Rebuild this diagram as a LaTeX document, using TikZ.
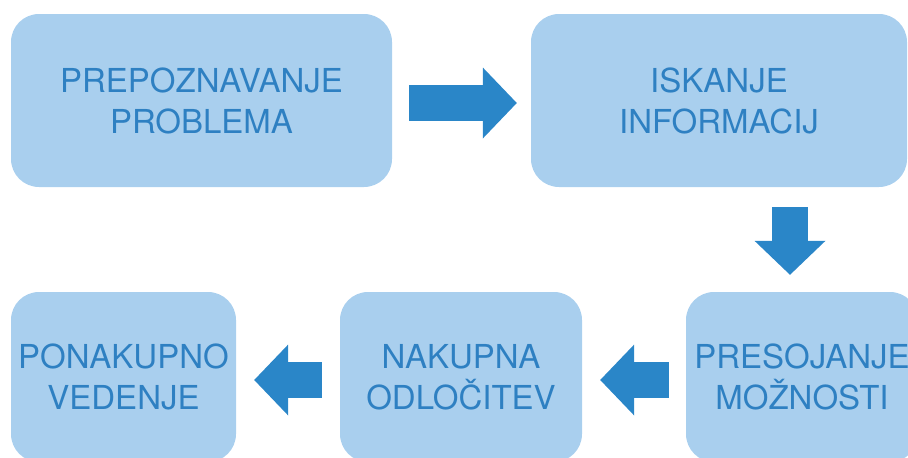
\documentclass[tikz,border=0pt]{standalone}
\usepackage{fontspec}
\setmainfont{TeX Gyre Heros}
\usetikzlibrary{arrows.meta}
\definecolor{boxblue}{HTML}{A9CFEE}
\definecolor{textblue}{HTML}{2E80C2}
\definecolor{arrowblue}{HTML}{2A86C8}
\tikzset{stage/.style={rectangle, rounded corners=28pt, fill=boxblue,
    text=textblue, align=center, inner sep=1pt,
    font=\fontsize{33}{41}\selectfont,
    execute at begin node={\rule{0pt}{31pt}}},
  bigarrow/.style={draw=arrowblue, line width=36pt,
    -{Triangle[length=34pt,width=71pt,line width=0pt]}}}

\begin{document}
\begin{tikzpicture}[x=1pt,y=-1pt]

  \useasboundingbox (0,0) rectangle (908,458);
  \clip (0,0) rectangle (908,458);

  \node [stage, minimum width=381pt, minimum height=173pt] (prepoznavanje)
    at (201.5,100.5) {PREPOZNAVANJE\\PROBLEMA};
  \node [stage, minimum width=376pt, minimum height=173pt] (iskanje)
    at (719,100.5) {ISKANJE\\INFORMACIJ};
  \node [stage, minimum width=232pt, minimum height=170pt] (presojanje)
    at (802,377) {PRESOJANJE\\MOŽNOSTI};
  \node [stage, minimum width=242pt, minimum height=170pt] (odlocitev)
    at (461,377) {NAKUPNA\\ODLOČITEV};
  \node [stage, minimum width=225pt, minimum height=170pt] (vedenje)
    at (123.5,377) {PONAKUPNO\\VEDENJE};

  \coordinate (a1) at ([shift={(17,2.5)}]prepoznavanje.east);
  \coordinate (a2) at ([shift={(-14,2.5)}]iskanje.west);
  \coordinate (b1) at ([shift={(71,20)}]iskanje.south);
  \coordinate (b2) at ([shift={(-12,-17)}]presojanje.north);
  \coordinate (c1) at ([shift={(-17,3)}]presojanje.west);
  \coordinate (c2) at ([shift={(18,3)}]odlocitev.east);
  \coordinate (d1) at ([shift={(-18,3)}]odlocitev.west);
  \coordinate (d2) at ([shift={(18,3)}]vedenje.east);

  \draw [bigarrow] (a1) -- (a2);
  \draw [bigarrow] (b1) -- (b2);
  \draw [bigarrow] (c1) -- (c2);
  \draw [bigarrow] (d1) -- (d2);

\end{tikzpicture}
\end{document}
